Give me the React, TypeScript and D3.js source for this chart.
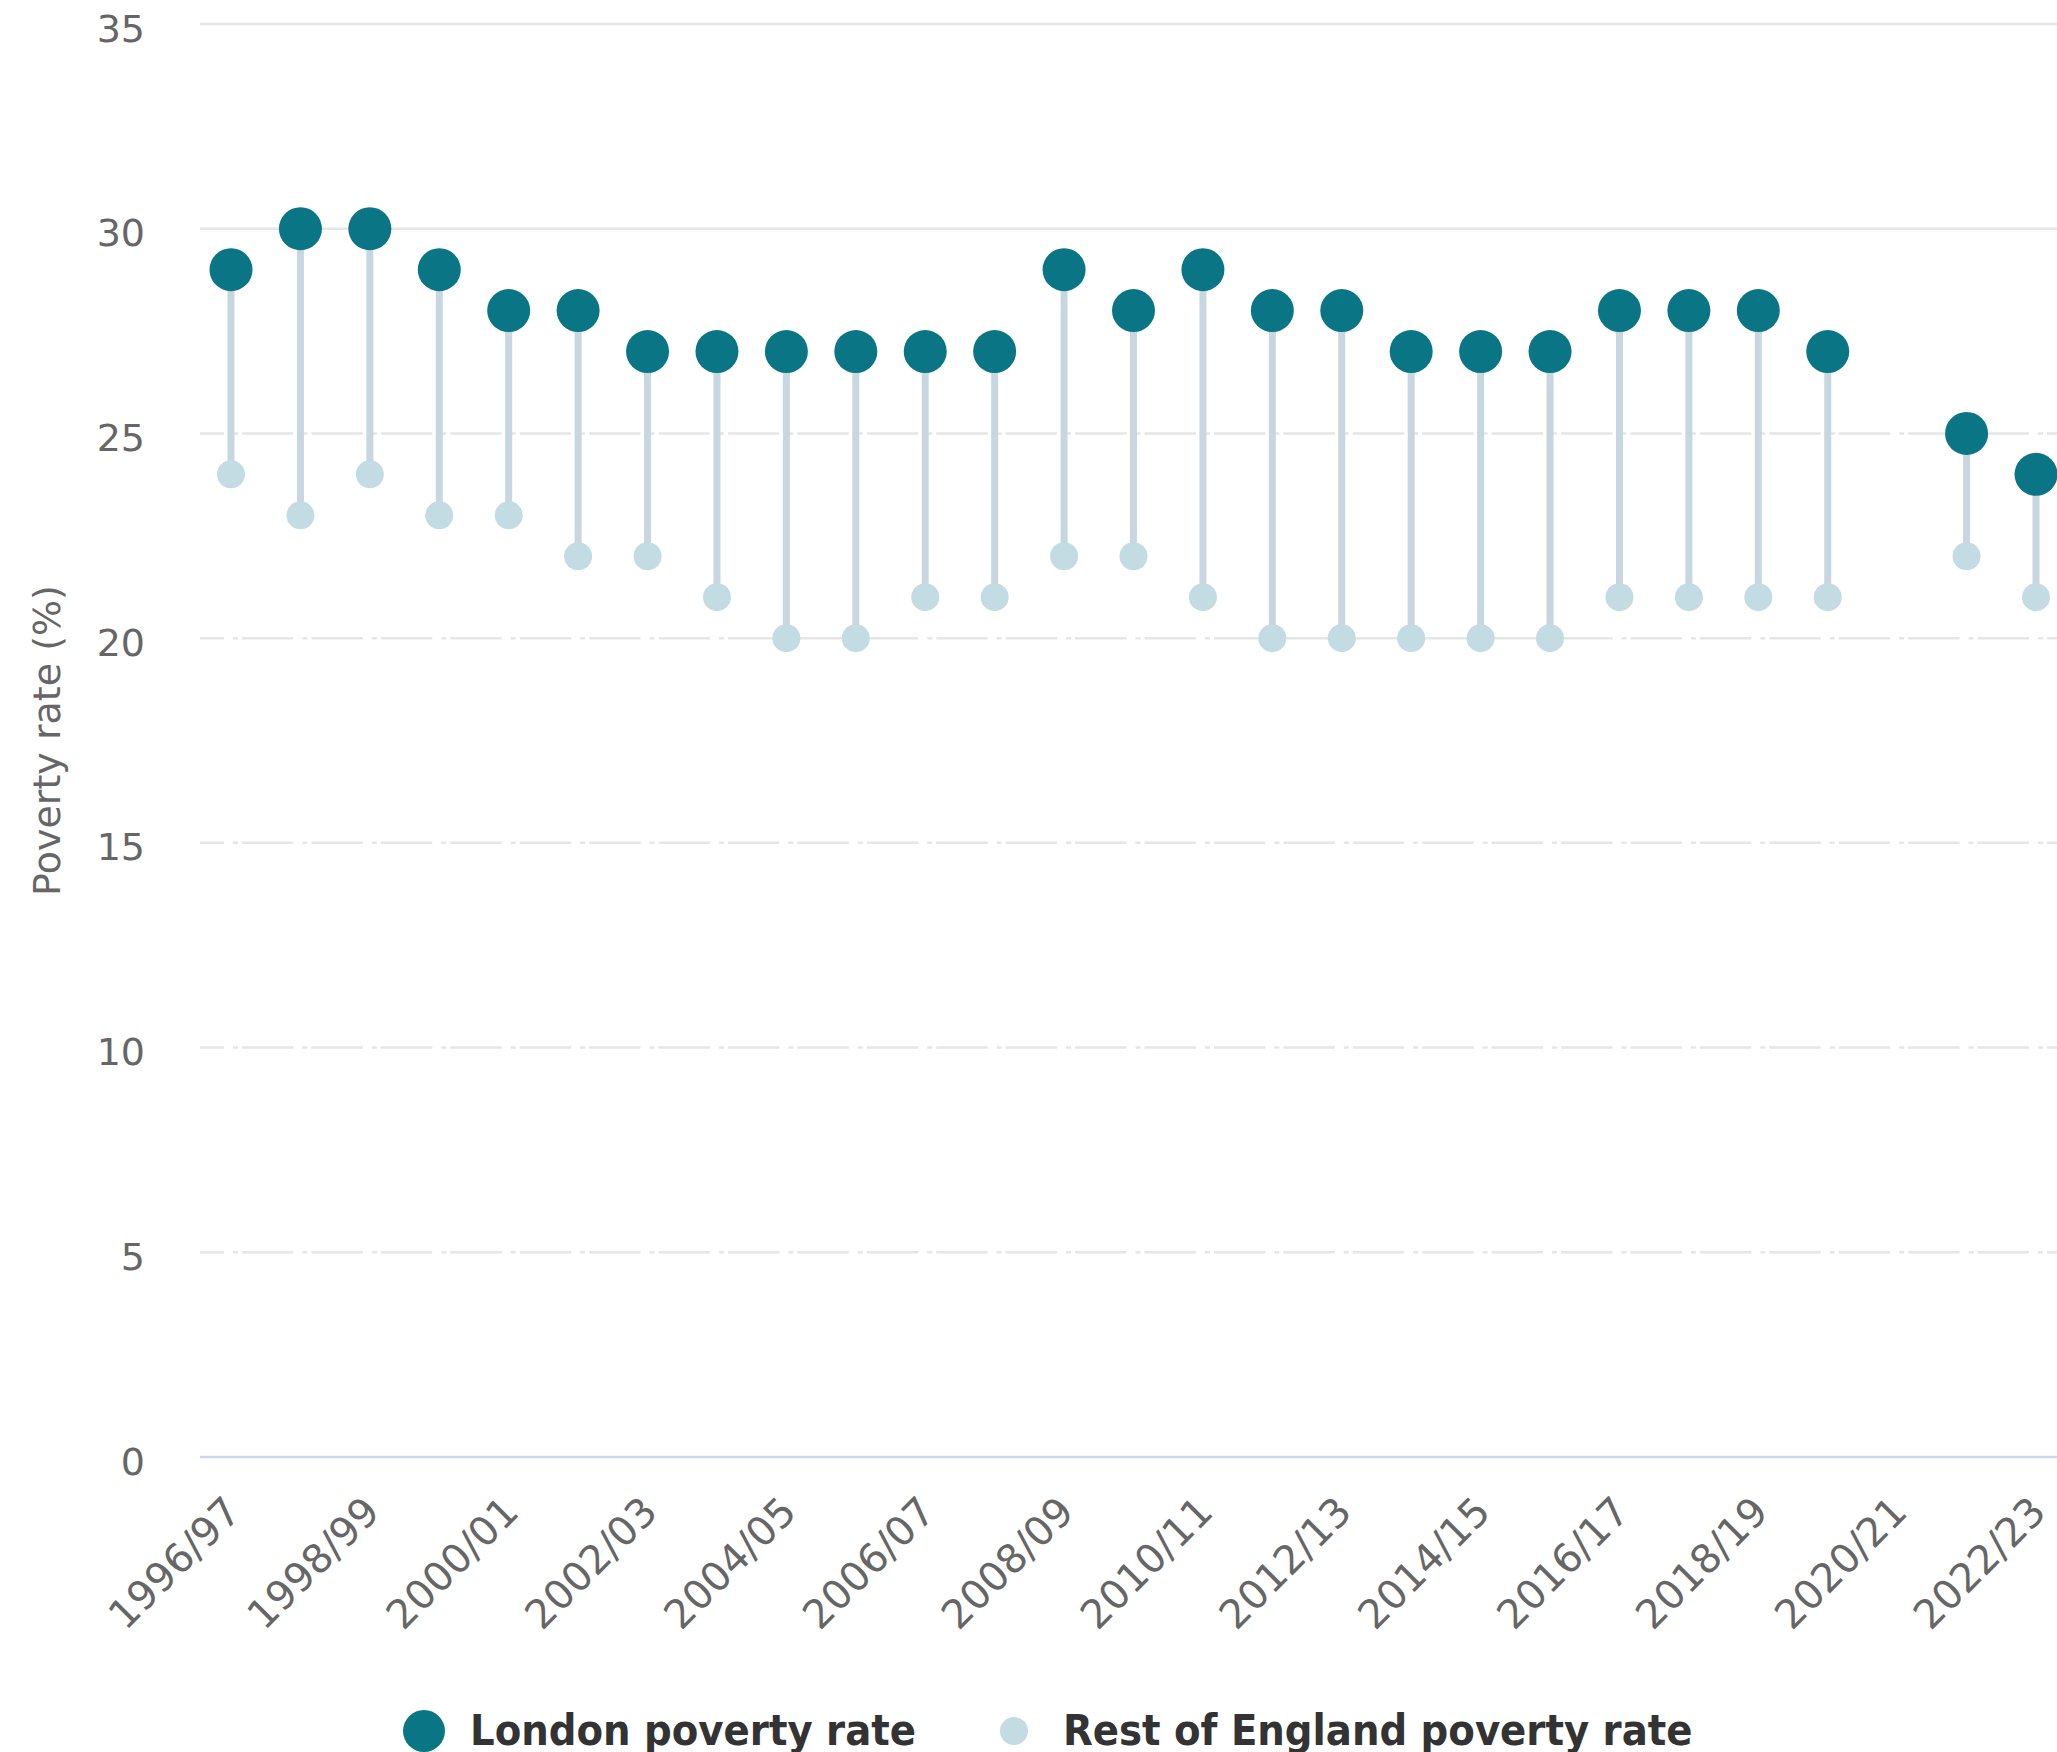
import React from "react";
import * as d3 from "d3";

const categories = [
  "1996/97", "1997/98", "1998/99", "1999/00", "2000/01", "2001/02", "2002/03",
  "2003/04", "2004/05", "2005/06", "2006/07", "2007/08", "2008/09", "2009/10",
  "2010/11", "2011/12", "2012/13", "2013/14", "2014/15", "2015/16", "2016/17",
  "2017/18", "2018/19", "2019/20", "2020/21", "2021/22", "2022/23",
];
const londonRate: (number | null)[] = [
  29, 30, 30, 29, 28, 28, 27, 27, 27, 27, 27, 27, 29, 28, 29, 28, 28, 27, 27, 27,
  28, 28, 28, 27, null, 25, 24,
];
const restOfEnglandRate: (number | null)[] = [
  24, 23, 24, 23, 23, 22, 22, 21, 20, 20, 21, 21, 22, 22, 21, 20, 20, 20, 20, 20,
  21, 21, 21, 21, null, 22, 21,
];
const yTicks = [0, 5, 10, 15, 20, 25, 30, 35];
const seriesNames = ["London poverty rate", "Rest of England poverty rate"];
const yAxisTitle = "Poverty rate (%)";

const W = 2057;
const H = 1752;
const plotLeft = 200;
const plotTop = 24;
const plotBottom = 1457;
const LONDON = "#0a7585";
const REST = "#c3dce4";
const STEM = "#c6d7df";
const GRID = "#e6e6e6";
const AXIS_FONT = "'DejaVu Sans', Verdana, sans-serif";
const LEGEND_FONT = "'DejaVu Sans Condensed', 'DejaVu Sans', sans-serif";

export default function App() {
  const x = d3.scalePoint<string>().domain(categories).range([231, 2036]);
  const y = d3.scaleLinear().domain([0, 35]).range([plotBottom, plotTop]);
  const step = x.step();

  // dash pattern for lower gridlines: long dash, gap, small dash, gap around each category
  const longDash = step - 18;
  const dashArray = `${longDash} 9 5 4`;
  const firstC = x(categories[0]) as number;
  const patternStart = firstC - 7 - longDash;
  const dashOffset = plotLeft - patternStart;

  return (
    <div style={{ position: "absolute", left: 0, top: 0, width: W, height: H, overflow: "hidden", background: "#fff" }}>
      <svg width={W} height={H} style={{ display: "block" }}>
        {/* gridlines */}
        {yTicks.filter((t) => t !== 0).map((t) => (
          <line
            key={t}
            x1={plotLeft}
            x2={W}
            y1={y(t)}
            y2={y(t)}
            stroke={GRID}
            strokeWidth={2.5}
            strokeDasharray={t <= 25 ? dashArray : undefined}
            strokeDashoffset={t <= 25 ? dashOffset : undefined}
          />
        ))}
        {/* x axis line */}
        <line x1={plotLeft} x2={W} y1={y(0)} y2={y(0)} stroke="#ccd6eb" strokeWidth={2.5} />

        {/* y tick labels */}
        {yTicks.map((t) => (
          <text
            key={t}
            x={145}
            y={y(t) + 17.5}
            textAnchor="end"
            fontFamily={AXIS_FONT}
            fontSize={38}
            fill="#666666"
          >
            {t}
          </text>
        ))}

        {/* y axis title */}
        <text
          transform={`translate(60, ${(plotTop + plotBottom) / 2}) rotate(-90)`}
          textAnchor="middle"
          fontFamily={AXIS_FONT}
          fontSize={38}
          fill="#666666"
        >
          {yAxisTitle}
        </text>

        {/* x tick labels */}
        {categories.map((c, i) =>
          i % 2 === 0 ? (
            <text
              key={c}
              transform={`translate(${(x(c) as number) + 12}, ${plotBottom + 57}) rotate(-45)`}
              textAnchor="end"
              fontFamily={AXIS_FONT}
              fontSize={40}
              fill="#666666"
            >
              {c}
            </text>
          ) : null
        )}

        {/* stems */}
        {categories.map((c, i) => {
          const a = londonRate[i];
          const b = restOfEnglandRate[i];
          if (a == null || b == null) return null;
          return (
            <line
              key={"s" + c}
              x1={x(c)}
              x2={x(c)}
              y1={y(a)}
              y2={y(b)}
              stroke={STEM}
              strokeWidth={7}
            />
          );
        })}

        {/* rest of England dots */}
        {categories.map((c, i) => {
          const b = restOfEnglandRate[i];
          if (b == null) return null;
          return <circle key={"r" + c} cx={x(c)} cy={y(b)} r={14} fill={REST} />;
        })}

        {/* London dots */}
        {categories.map((c, i) => {
          const a = londonRate[i];
          if (a == null) return null;
          return <circle key={"l" + c} cx={x(c)} cy={y(a)} r={21.5} fill={LONDON} />;
        })}

        {/* legend */}
        <circle cx={424} cy={1731} r={21} fill={LONDON} />
        <text x={470} y={1745} fontFamily={LEGEND_FONT} fontWeight="bold" fontSize={43} fill="#333333">
          {seriesNames[0]}
        </text>
        <circle cx={1014} cy={1731} r={14} fill={REST} />
        <text x={1063} y={1745} fontFamily={LEGEND_FONT} fontWeight="bold" fontSize={43} fill="#333333">
          {seriesNames[1]}
        </text>
      </svg>
    </div>
  );
}
